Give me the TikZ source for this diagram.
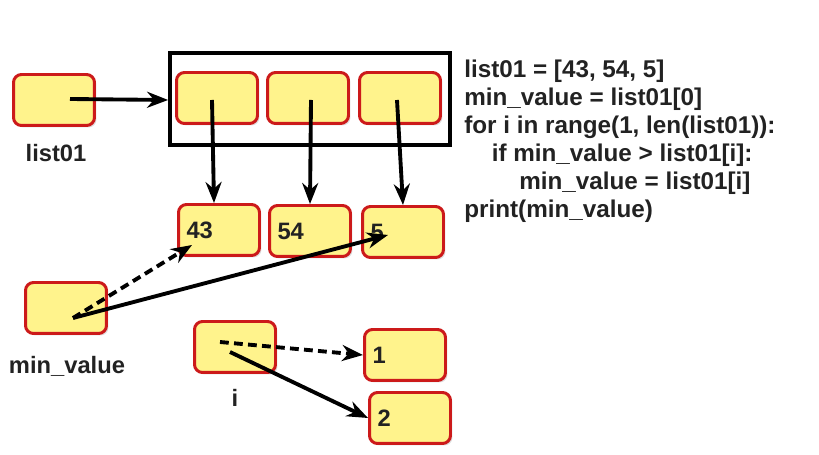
\documentclass[tikz,border=0pt]{standalone}
\usepackage{fontspec}
\setmainfont{Liberation Sans}
\usepackage{tikz}
\usetikzlibrary{arrows.meta,shadows}
\definecolor{boxfill}{HTML}{FFF38C}
\definecolor{boxline}{HTML}{CC1A1A}
\definecolor{ink}{HTML}{222222}
\tikzset{
cell/.style={draw=boxline,fill=boxfill,line width=1.7pt,rounded corners=0.16cm,
  minimum width=1.62cm,minimum height=1.02cm,inner sep=0pt,
  drop shadow={shadow xshift=0.04cm,shadow yshift=-0.04cm,opacity=0.25}},
val/.style={cell,font=\fontsize{13.5}{15}\selectfont\bfseries,text=ink,
  text width=1.3cm,align=left},
lbl/.style={font=\fontsize{13.5}{15}\selectfont\bfseries,text=ink},
ptr/.style={line width=2.2pt,-{Stealth[length=0.42cm,width=0.32cm]}},
dsh/.style={dash pattern=on 5pt off 3pt},
}
\begin{document}
\begin{tikzpicture}[x=0.02cm,y=-0.02cm]
\useasboundingbox (0,0) rectangle (819,455);
\node[draw,line width=2.2pt,minimum width=5.6cm,minimum height=1.84cm] (arr) at (310,99) {};
\node[cell] (lst) at (54,100) {};
\node[cell] (c1) at (217,98) {};
\node[cell] (c2) at (308,98) {};
\node[cell] (c3) at (400,98) {};
\node[val] (v43) at (219,230) {43};
\node[val] (v54) at (310,231) {54};
\node[val] (v5) at (403,232) {5};
\node[cell] (mv) at (66,308) {};
\node[cell] (iv) at (235,347) {};
\node[val] (one) at (405,355) {1};
\node[val] (two) at (410,418) {2};
\node[lbl] (lstname) at (56,153) {list01};
\node[lbl] (mvname) at (67,366) {min\_value};
\node[lbl] (iname) at (235,398) {i};
\node[lbl,anchor=north west,inner sep=0pt,align=left,font=\fontsize{13.8}{15.9}\selectfont\bfseries] (code) at (464,60)
{list01 = [43, 54, 5]\\
min\_value = list01[0]\\
for i in range(1, len(list01)):\\
\hspace*{0.55cm}if min\_value > list01[i]:\\
\hspace*{1.1cm}min\_value = list01[i]\\
print(min\_value)};
\draw[ptr] ([shift={(16,-1)}]lst.center) -- (arr.west |- lst.center);
\draw[ptr] ([shift={(-5,2)}]c1.center) -- ([xshift=-0.1cm]v43.north);
\draw[ptr] ([shift={(3,2)}]c2.center) -- (v54.north);
\draw[ptr] ([shift={(-3,2)}]c3.center) -- (v5.north);
\draw[ptr,dsh] ([shift={(7,10)}]mv.center) -- ([shift={(-27,15)}]v43.center);
\draw[ptr] ([shift={(7,10)}]mv.center) -- ([shift={(-15,3)}]v5.center);
\draw[ptr,dsh] ([shift={(-15,-5)}]iv.center) -- (one.west);
\draw[ptr] ([shift={(-5,5)}]iv.center) -- (two.west);
\end{tikzpicture}
\end{document}
